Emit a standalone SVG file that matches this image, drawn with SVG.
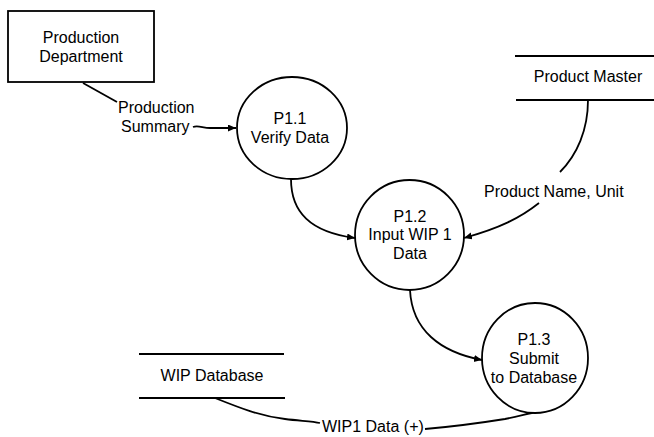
<svg xmlns="http://www.w3.org/2000/svg" width="654" height="437" viewBox="0 0 654 437">
  <defs>
    <marker id="arrow" markerUnits="userSpaceOnUse" markerWidth="9" markerHeight="8" refX="8" refY="3.5" orient="auto">
      <path d="M0,0 L8,3.5 L0,7 z" fill="#000"/>
    </marker>
    <style>
      .shape { fill: #fff; stroke: #000; stroke-width: 1.8; }
      .store { stroke: #000; stroke-width: 2; }
      .flow { fill: none; stroke: #000; stroke-width: 1.8; }
      .lbl { font-family: "Liberation Sans", Arial, sans-serif; font-size: 16px; fill: #000; text-anchor: middle; }
      .flowlbl { font-family: "Liberation Sans", Arial, sans-serif; font-size: 16px; fill: #000; }
    </style>
  </defs>
  <rect width="654" height="437" fill="#fff"/>

  <!-- connectors -->
  <g id="connectors">
    <path class="flow" d="M83,83 L117,102"/>
    <path class="flow" d="M193,127 C198,125 203,128 210,128 L236,128" marker-end="url(#arrow)"/>
    <path class="flow" d="M291,179 C291,212 310,232 355,238" marker-end="url(#arrow)"/>
    <path class="flow" d="M588,100 C588,130 577,155 560,172"/>
    <path class="flow" d="M539,203 C520,218 500,228 464,238" marker-end="url(#arrow)"/>
    <path class="flow" d="M410,290 C412,330 440,352 482,360" marker-end="url(#arrow)"/>
    <path class="flow" d="M215,398 C240,408 260,416 285,419 C300,421 312,421 320,423"/>
    <path class="flow" d="M425,429 C460,426 480,423 505,419 C520,416 530,413 537,412"/>
    <text class="flowlbl" x="118" y="113">Production</text>
    <text class="flowlbl" x="121" y="132">Summary</text>
    <text class="flowlbl" x="484" y="197">Product Name, Unit</text>
    <text class="flowlbl" x="322" y="432">WIP1 Data (+)</text>
  </g>

  <!-- external entity -->
  <g id="production-department">
    <rect class="shape" x="8" y="11" width="146" height="71"/>
    <text class="lbl" x="81" y="43">Production</text>
    <text class="lbl" x="81" y="62">Department</text>
  </g>

  <!-- processes -->
  <g id="p1-1">
    <ellipse class="shape" cx="292" cy="128" rx="55" ry="51"/>
    <text class="lbl" x="290" y="124">P1.1</text>
    <text class="lbl" x="290" y="143">Verify Data</text>
  </g>
  <g id="p1-2">
    <ellipse class="shape" cx="409.5" cy="235" rx="54.5" ry="55"/>
    <text class="lbl" x="410" y="222">P1.2</text>
    <text class="lbl" x="410" y="240">Input WIP 1</text>
    <text class="lbl" x="410" y="259">Data</text>
  </g>
  <g id="p1-3">
    <ellipse class="shape" cx="535" cy="358" rx="53" ry="55"/>
    <text class="lbl" x="534" y="345">P1.3</text>
    <text class="lbl" x="534" y="364">Submit</text>
    <text class="lbl" x="534" y="383">to Database</text>
  </g>

  <!-- data stores -->
  <g id="product-master">
    <line class="store" x1="515" y1="56" x2="654" y2="56"/>
    <line class="store" x1="516" y1="100" x2="654" y2="100"/>
    <text class="lbl" x="588" y="82">Product Master</text>
  </g>
  <g id="wip-database">
    <line class="store" x1="139" y1="354" x2="284" y2="354"/>
    <line class="store" x1="139" y1="398" x2="285" y2="398"/>
    <text class="lbl" x="212" y="381">WIP Database</text>
  </g>
</svg>
